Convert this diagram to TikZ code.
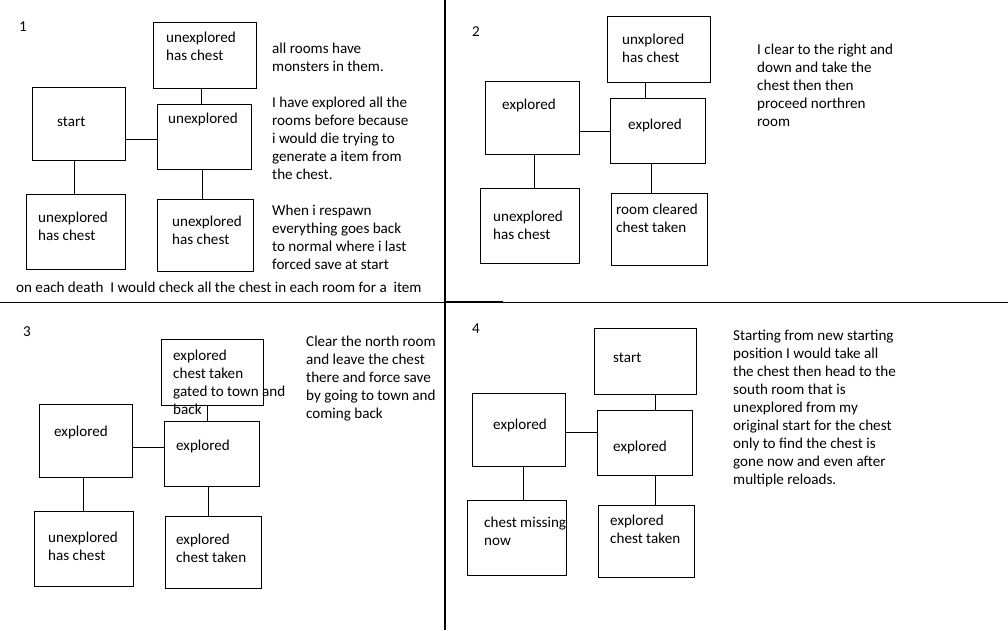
\documentclass[tikz,border=0pt]{standalone}
\usepackage{fontspec}
\setmainfont{Carlito}
\begin{document}
\begin{tikzpicture}[x=1pt,y=-1pt,
  room/.style n args={2}{draw,line width=1pt,inner sep=0pt,minimum width=#1pt,minimum height=#2pt},
  txt/.style={anchor=north west,inner sep=0pt,align=left,yshift=-2pt,font=\fontsize{15.1}{18}\selectfont},
  link/.style={line width=1pt},
  divider/.style={line width=1.1pt}]
\useasboundingbox[fill=white] (0,0) rectangle (1008,630);
% dividers
\draw[divider] (445,0) coordinate (dt) -- (445,630) coordinate (db);
\draw[divider] (0,302.5) coordinate (dl) -- (1008,302.5) coordinate (dr);
\draw[line width=0.6pt] (445,301) coordinate (ds) -- (503,301) coordinate (de);

% ---------- panel 1 ----------
\node[room={103}{66}] (p1n) at (204.5,55) {};
\node[room={93}{73}] (p1s) at (78.5,123.5) {};
\node[room={94}{65}] (p1c) at (204,136.5) {};
\node[room={99}{75}] (p1bl) at (75.5,231.5) {};
\node[room={96}{72}] (p1br) at (205,235) {};
\draw[link] (p1s.east |- 0,139) -- (p1c.west |- 0,139);
\draw[link] (p1n.south -| 201,0) -- (p1c.north -| 201,0);
\draw[link] (p1s.south -| 74,0) -- (p1bl.north -| 74,0);
\draw[link] (p1c.south -| 202,0) -- (p1br.north -| 202,0);
\node[txt] (t1) at (19,20) {1};
\node[txt] (t1n) at (166,30) {unexplored\\has chest};
\node[txt] (t1s) at (57,115) {start};
\node[txt] (t1c) at (168,111) {unexplored};
\node[txt] (t1bl) at (38,210) {unexplored\\has chest};
\node[txt] (t1br) at (172,214) {unexplored\\has chest};
\node[txt] (t1side) at (272,41) {all rooms have\\monsters in them.\\[18pt]I have explored all the\\rooms before because\\i would die trying to\\generate a item from\\the chest.\\[18pt]When i respawn\\everything goes back\\to normal where i last\\forced save at start};
\node[txt] (t1bot) at (16,280) {on each death\ \ I would check all the chest in each room for a\ \ item};

% ---------- panel 2 ----------
\node[room={103}{66}] (p2n) at (658.5,49) {};
\node[room={94}{73}] (p2l) at (532,117.5) {};
\node[room={95}{65}] (p2c) at (657.5,130.5) {};
\node[room={99}{75}] (p2bl) at (529.5,225.5) {};
\node[room={96}{72}] (p2br) at (659,229) {};
\draw[link] (p2n.south -| 645,0) -- (p2c.north -| 645,0);
\draw[link] (p2l.east |- 0,131) -- (p2c.west |- 0,131);
\draw[link] (p2l.south -| 534,0) -- (p2bl.north -| 534,0);
\draw[link] (p2c.south -| 651,0) -- (p2br.north -| 651,0);
\node[txt] (t2) at (472,24) {2};
\node[txt] (t2n) at (622,32) {unxplored\\has chest};
\node[txt] (t2l) at (502,97) {explored};
\node[txt] (t2c) at (628,117) {explored};
\node[txt] (t2bl) at (493,209) {unexplored\\has chest};
\node[txt] (t2br) at (616,202) {room cleared\\chest taken};
\node[txt] (t2side) at (757,42) {I clear to the right and\\down and take the\\chest then then\\proceed northren\\room};

% ---------- panel 3 ----------
\node[room={102}{66}] (p3n) at (212,372) {};
\node[room={93}{73}] (p3l) at (85.5,440.5) {};
\node[room={95}{65}] (p3c) at (211.5,453.5) {};
\node[room={99}{75}] (p3bl) at (83.5,548.5) {};
\node[room={96}{72}] (p3br) at (213,552) {};
\draw[link] (p3n.south -| 207,0) -- (p3c.north -| 207,0);
\draw[link] (p3l.east |- 0,447) -- (p3c.west |- 0,447);
\draw[link] (p3l.south -| 83,0) -- (p3bl.north -| 83,0);
\draw[link] (p3c.south -| 208,0) -- (p3br.north -| 208,0);
\node[txt] (t3) at (23,324) {3};
\node[txt] (t3n) at (173,348) {explored\\chest taken\\gated to town and\\back};
\node[txt] (t3l) at (54,424) {explored};
\node[txt] (t3c) at (176,438) {explored};
\node[txt] (t3bl) at (48,530) {unexplored\\has chest};
\node[txt] (t3br) at (176,532) {explored\\chest taken};
\node[txt] (t3side) at (306,334) {Clear the north room\\and leave the chest\\there and force save\\by going to town and\\coming back};

% ---------- panel 4 ----------
\node[room={102}{66}] (p4n) at (645,361) {};
\node[room={93}{73}] (p4l) at (518.5,429.5) {};
\node[room={95}{65}] (p4c) at (644.5,442.5) {};
\node[room={99}{75}] (p4bl) at (516.5,537.5) {};
\node[room={96}{72}] (p4br) at (646,541) {};
\draw[link] (p4n.south -| 655,0) -- (p4c.north -| 655,0);
\draw[link] (p4l.east |- 0,432) -- (p4c.west |- 0,432);
\draw[link] (p4l.south -| 523,0) -- (p4bl.north -| 523,0);
\draw[link] (p4c.south -| 655,0) -- (p4br.north -| 655,0);
\node[txt] (t4) at (472,322) {4};
\node[txt] (t4n) at (613,351) {start};
\node[txt] (t4l) at (493,417) {explored};
\node[txt] (t4c) at (613,439) {explored};
\node[txt] (t4bl) at (484,515) {chest missing\\now};
\node[txt] (t4br) at (610,513) {explored\\chest taken};
\node[txt] (t4side) at (733,328) {Starting from new starting\\position I would take all\\the chest then head to the\\south room that is\\unexplored from my\\original start for the chest\\only to find the chest is\\gone now and even after\\multiple reloads.};
\end{tikzpicture}
\end{document}
